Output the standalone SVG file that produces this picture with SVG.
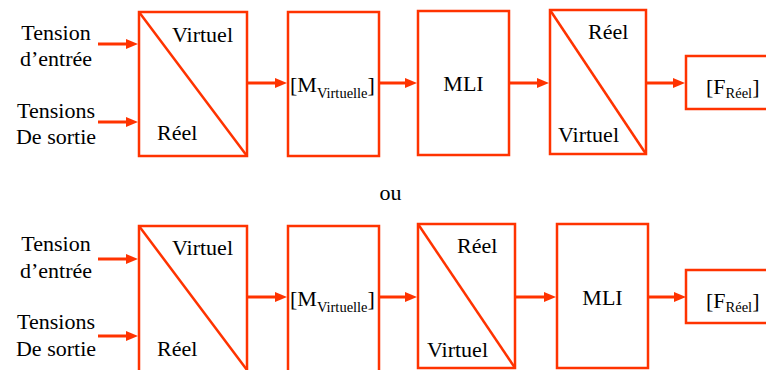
<svg xmlns="http://www.w3.org/2000/svg" width="766" height="370" viewBox="0 0 766 370">
<defs>
<style>
.box{fill:#fff;stroke:#FF3300;stroke-width:2.5}
.diag{stroke:#FF3300;stroke-width:2.5;fill:none}
.arr{stroke:#FF3300;stroke-width:3;fill:none;marker-end:url(#ah)}
text{font-family:'Liberation Serif','Times New Roman',Times,'DejaVu Serif',serif;font-size:22px;fill:#000}
.mid{text-anchor:middle}
.sub{font-size:14.5px}
</style>
<marker id="ah" markerUnits="userSpaceOnUse" viewBox="0 0 12 10" refX="2" refY="5" markerWidth="12" markerHeight="10" orient="auto">
<path d="M0,0 L12,5 L0,10 z" fill="#FF3300"/>
</marker>
</defs>
<rect width="766" height="370" fill="#fff"/>

<g id="labels-top" font-family="Liberation Serif, serif">
<text x="56" y="40" class="mid">Tension</text>
<text x="56" y="66" class="mid">d’entrée</text>
<text x="56" y="118" class="mid">Tensions</text>
<text x="56" y="144" class="mid">De sortie</text>
</g>
<g id="top-conv1">
<rect class="box" x="139" y="12" width="108" height="144"/>
<line class="diag" x1="139" y1="12" x2="247" y2="156"/>
<text x="172" y="42">Virtuel</text>
<text x="157" y="140">Réel</text>
</g>
<g id="top-m">
<rect class="box" x="288" y="12" width="91" height="144"/>
<text x="290" y="92">[M<tspan class="sub" dy="6">Virtuelle</tspan><tspan dy="-6">]</tspan></text>
</g>
<g id="top-mli">
<rect class="box" x="418" y="11" width="91" height="144"/>
<text x="463.5" y="91" class="mid">MLI</text>
</g>
<g id="top-conv2">
<rect class="box" x="550" y="10" width="96" height="144"/>
<line class="diag" x1="550" y1="10" x2="646" y2="154"/>
<text x="588" y="39">Réel</text>
<text x="558" y="142">Virtuel</text>
</g>
<g id="top-f">
<rect class="box" x="686" y="56" width="90" height="53"/>
<text x="706" y="94">[F<tspan class="sub" dy="4">Réel</tspan><tspan dy="-4">]</tspan></text>
</g>

<g id="ou">
<text x="390.5" y="200" class="mid">ou</text>
</g>

<g id="labels-bottom">
<text x="56" y="251" class="mid">Tension</text>
<text x="56" y="278" class="mid">d’entrée</text>
<text x="56" y="329" class="mid">Tensions</text>
<text x="56" y="356" class="mid">De sortie</text>
</g>
<g id="bot-conv1">
<rect class="box" x="139" y="226" width="108" height="150"/>
<line class="diag" x1="139" y1="226" x2="247" y2="370"/>
<text x="172" y="255">Virtuel</text>
<text x="157" y="356">Réel</text>
</g>
<g id="bot-m">
<rect class="box" x="288" y="226" width="91" height="150"/>
<text x="290" y="306">[M<tspan class="sub" dy="6">Virtuelle</tspan><tspan dy="-6">]</tspan></text>
</g>
<g id="bot-conv2">
<rect class="box" x="418" y="224" width="97" height="144"/>
<line class="diag" x1="418" y1="224" x2="515" y2="368"/>
<text x="457" y="253">Réel</text>
<text x="427" y="357">Virtuel</text>
</g>
<g id="bot-mli">
<rect class="box" x="557" y="224" width="91" height="144"/>
<text x="602.5" y="305" class="mid">MLI</text>
</g>
<g id="bot-f">
<rect class="box" x="686" y="270" width="90" height="53"/>
<text x="706" y="308">[F<tspan class="sub" dy="4">Réel</tspan><tspan dy="-4">]</tspan></text>
</g>

<g id="connectors">
<line class="arr" x1="98" y1="44" x2="128" y2="44"/>
<line class="arr" x1="98" y1="122" x2="128" y2="122"/>
<line class="arr" x1="247" y1="83" x2="277" y2="83"/>
<line class="arr" x1="379" y1="83" x2="407" y2="83"/>
<line class="arr" x1="509" y1="83" x2="539" y2="83"/>
<line class="arr" x1="646" y1="83" x2="675" y2="83"/>
<line class="arr" x1="98" y1="259" x2="128" y2="259"/>
<line class="arr" x1="98" y1="336" x2="128" y2="336"/>
<line class="arr" x1="247" y1="297" x2="277" y2="297"/>
<line class="arr" x1="379" y1="297" x2="407" y2="297"/>
<line class="arr" x1="515" y1="297" x2="546" y2="297"/>
<line class="arr" x1="648" y1="297" x2="676" y2="297"/>
</g>
</svg>
